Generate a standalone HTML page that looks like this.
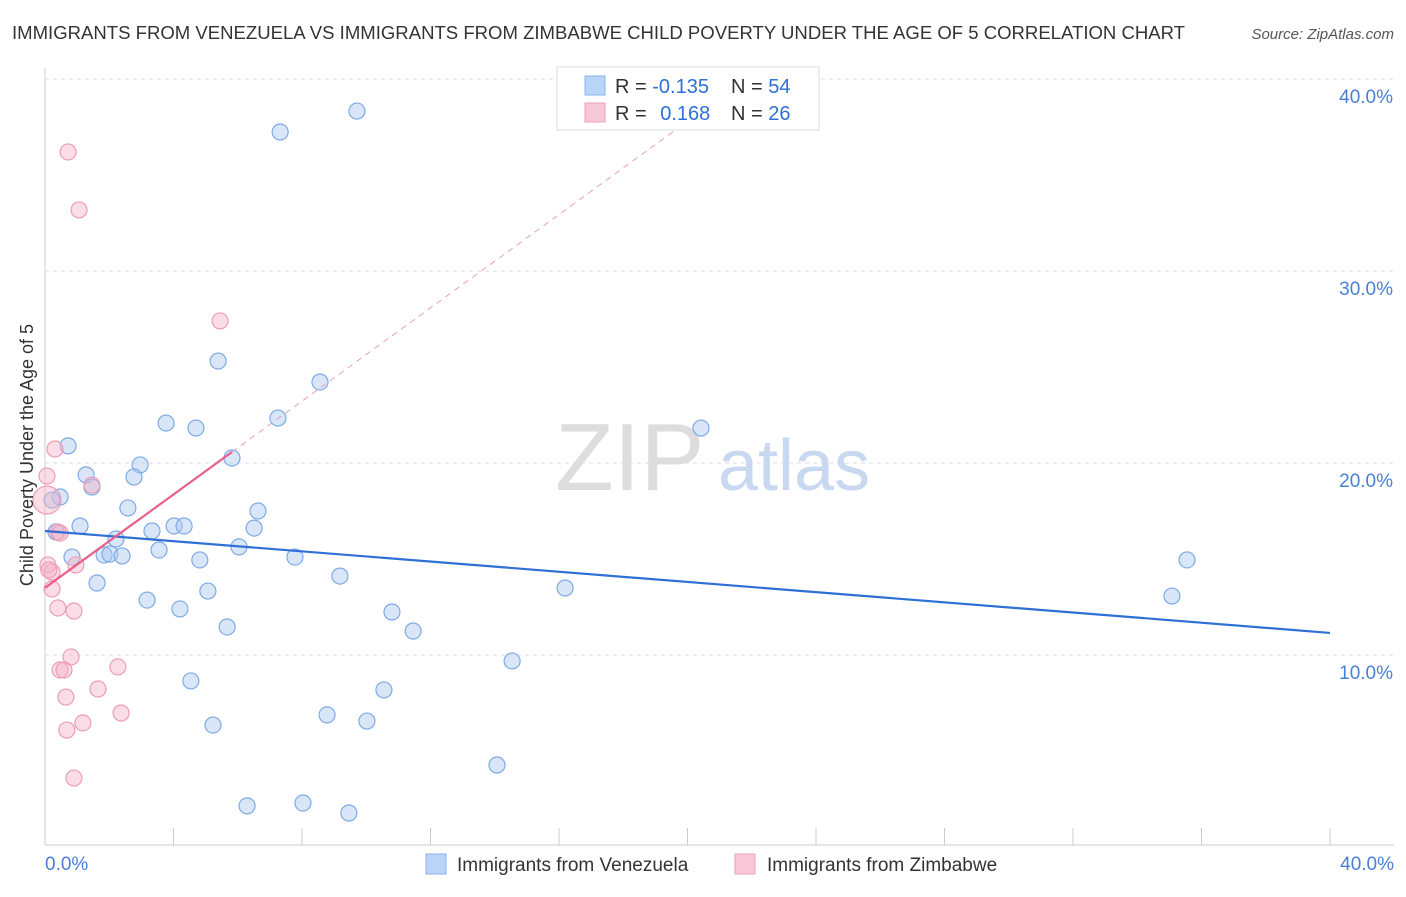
<!DOCTYPE html>
<html><head><meta charset="utf-8"><style>
body{margin:0;background:#fff;font-family:"Liberation Sans",sans-serif;}
svg text{font-family:"Liberation Sans",sans-serif;}
</style></head><body>
<svg id="c" width="1406" height="892" xmlns="http://www.w3.org/2000/svg">
<text x="12" y="39" font-size="18" fill="#333" textLength="1173" lengthAdjust="spacingAndGlyphs">IMMIGRANTS FROM VENEZUELA VS IMMIGRANTS FROM ZIMBABWE CHILD POVERTY UNDER THE AGE OF 5 CORRELATION CHART</text>
<text x="1394" y="39" font-size="15" fill="#555" font-style="italic" text-anchor="end">Source: ZipAtlas.com</text>
<g id="grid"></g>
<g>
<text x="555" y="490" font-size="96" fill="#ddd" font-family="Liberation Serif">ZIP</text>
<text x="718" y="490" font-size="72" fill="#c8d8f0">atlas</text>
</g>
<g id="marks"></g>
<text transform="translate(33,455) rotate(-90)" font-size="18" fill="#333" text-anchor="middle">Child Poverty Under the Age of 5</text>
<g>
<rect x="557" y="67" width="262" height="63" fill="#fff" stroke="#ddd"/>
<rect x="585" y="76" width="20" height="19" fill="#b8d4f6" stroke="#8ab4e8"/>
<rect x="585" y="103" width="20" height="19" fill="#f8c8d8" stroke="#f0a0b8"/>
<text x="615" y="93" font-size="20" fill="#333">R = <tspan fill="#2f6fd6">-0.135</tspan></text>
<text x="731" y="93" font-size="20" fill="#333">N = <tspan fill="#2f6fd6">54</tspan></text>
<text x="615" y="120" font-size="20" fill="#333">R = <tspan fill="#2f6fd6" dx="8">0.168</tspan></text>
<text x="731" y="120" font-size="20" fill="#333">N = <tspan fill="#2f6fd6">26</tspan></text>
</g>
<g>
<rect x="426" y="854" width="20" height="20" fill="#b8d4f6" stroke="#8ab4e8"/>
<text x="457" y="871" font-size="19" fill="#333">Immigrants from Venezuela</text>
<rect x="735" y="854" width="20" height="20" fill="#f8c8d8" stroke="#f0a0b8"/>
<text x="767" y="871" font-size="19" fill="#333">Immigrants from Zimbabwe</text>
</g>
</svg>
<script>
const yTicks=[10,20,30,40];
const yTickLabels=["10.0%","20.0%","30.0%","40.0%"];
const xTicks=[0,4,8,12,16,20,24,28,32,36,40];
const blueX=[7.32,9.71,5.39,8.56,7.25,3.77,4.70,0.72,5.82,2.96,1.28,2.77,1.46,0.47,0.22,2.58,6.63,1.09,4.02,4.33,3.33,6.51,0.34,2.21,6.04,3.55,0.84,1.84,2.02,2.40,4.82,7.78,1.62,9.18,5.07,16.19,3.18,4.20,10.80,5.67,11.46,14.54,4.54,10.55,8.78,10.02,5.23,14.07,6.29,8.03,9.46,20.42,35.55,35.08];
const blueY=[37.24,38.33,25.31,24.22,22.34,22.08,21.82,20.89,20.26,19.90,19.38,19.27,18.75,18.23,18.07,17.66,17.50,16.72,16.72,16.72,16.46,16.61,16.41,16.04,15.63,15.47,15.10,15.21,15.26,15.16,14.95,15.10,13.75,14.11,13.33,13.49,12.86,12.40,12.24,11.46,11.25,9.69,8.65,8.18,6.88,6.56,6.35,4.27,2.14,2.29,1.77,21.82,14.95,13.07];
const pinkX=[0.72,1.06,5.45,0.31,0.06,1.46,0.40,0.09,0.96,0.22,0.22,0.40,0.90,0.81,0.47,0.59,2.27,1.65,0.65,2.37,1.18,0.68,0.90,0.06,0.47,0.12];
const pinkY=[36.2,33.18,27.4,20.73,19.32,18.85,16.41,14.69,14.69,14.32,13.44,12.45,12.29,9.9,9.22,9.22,9.38,8.23,7.81,6.98,6.46,6.09,3.59,18.07,16.35,14.43];
const blueTrend=[16.46,11.15];
const pinkTrend=[13.5,1.215];
const X=v=>45+v*32.125, Y=v=>847-v*19.2;
const NS="http://www.w3.org/2000/svg";
function mk(t,a,p){const e=document.createElementNS(NS,t);for(const k in a)e.setAttribute(k,a[k]);p.appendChild(e);return e;}
const g=document.getElementById('grid'), m=document.getElementById('marks');
yTicks.forEach((t,i)=>{
 const l=mk('line',{x1:45,x2:1394,y1:Y(t),y2:Y(t),stroke:'#ddd','stroke-dasharray':'4,4'},g);
 
 
 const tx=mk('text',{x:1393,y:Y(t)+24,'font-size':19,fill:'#4a7fd4','text-anchor':'end'},g);
 tx.textContent=yTickLabels[i];
 
 
});
const ax=mk('line',{x1:45,x2:1394,y1:845,y2:845,stroke:'#ccc'},g);


const ay=mk('line',{x1:45,x2:45,y1:68,y2:845,stroke:'#ccc'},g);


xTicks.forEach(t=>{
 const l=mk('line',{x1:X(t),x2:X(t),y1:828,y2:845,stroke:'#ccc'},g);
 
 
});
const x0=mk('text',{x:45,y:870,'font-size':19,fill:'#4a7fd4'},g);x0.textContent='0.0%';


const x1=mk('text',{x:1394,y:870,'font-size':19,fill:'#4a7fd4','text-anchor':'end'},g);x1.textContent='40.0%';


blueX.forEach((v,i)=>{
 const c=mk('circle',{cx:X(v),cy:Y(blueY[i]),r:8,fill:'rgba(168,200,240,0.45)',stroke:'#7eaae6','stroke-width':1.2},m);
 
 
});
pinkX.forEach((v,i)=>{
 const c=mk('circle',{cx:X(v),cy:Y(pinkY[i]),r:i==23?14:8,fill:'rgba(245,180,200,0.45)',stroke:'#ee9cb6','stroke-width':1.2},m);
 
 
});
const bl=mk('line',{x1:X(0),y1:Y(blueTrend[0]),x2:X(40),y2:Y(blueTrend[1]),stroke:'#2f6fd6','stroke-width':2.2},m);


const pxEnd=5.82, pxDash=21.2;
const pd=mk('line',{x1:X(pxEnd),y1:Y(pinkTrend[0]+pinkTrend[1]*pxEnd),x2:X(pxDash),y2:Y(pinkTrend[0]+pinkTrend[1]*pxDash),stroke:'#e8a0b8','stroke-width':1,'stroke-dasharray':'6,5'},m);


const pl=mk('line',{x1:X(0),y1:Y(pinkTrend[0]),x2:X(pxEnd),y2:Y(pinkTrend[0]+pinkTrend[1]*pxEnd),stroke:'#e8608a','stroke-width':2.2},m);


</script>
</body></html>
